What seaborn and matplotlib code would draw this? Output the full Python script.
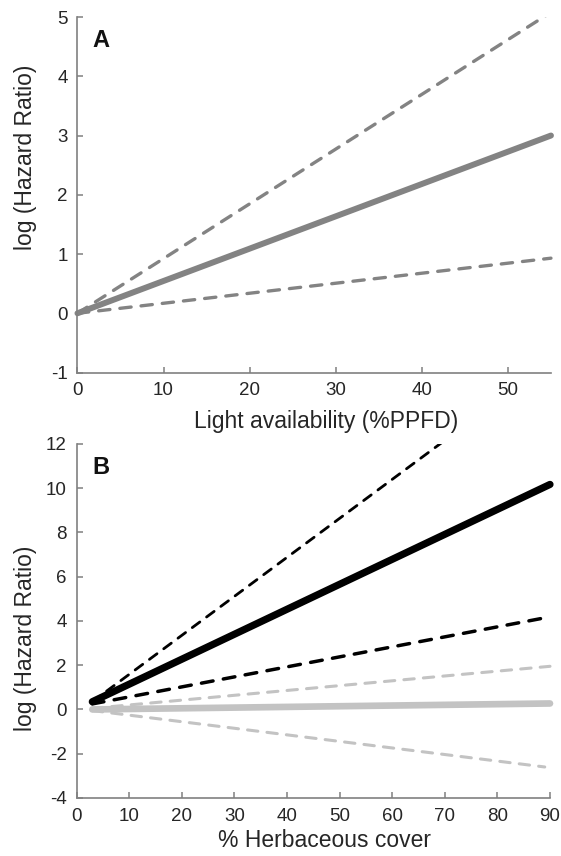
import numpy as np
import pandas as pd
import matplotlib
matplotlib.use('Agg')
import matplotlib.pyplot as plt
import seaborn as sns

# panel A: light availability
light_x = [0, 55]
light_mean = [0, 3.0]
light_upper = [0, 5.08]
light_lower = [0, 0.93]

# panel B: herbaceous cover
herb_x = [3, 90]
herb_black_mean = [0.35, 10.17]
herb_black_upper_x = [3, 70]
herb_black_upper = [0.35, 12.16]
herb_black_lower_x = [3, 89]
herb_black_lower = [0.25, 4.14]
herb_gray_mean = [0.0, 0.27]
herb_gray_upper = [0.05, 1.95]
herb_gray_lower_x = [3, 89]
herb_gray_lower = [-0.05, -2.6]

sns.set_style('ticks')
plt.rcParams['font.family'] = ['Liberation Sans', 'DejaVu Sans']
plt.rcParams['axes.unicode_minus'] = False

axis_col = '#808080'
mid_gray = '#838383'
light_gray = '#c3c3c3'
txt_col = '#262626'

fig = plt.figure(figsize=(5.61, 8.56), dpi=100)
ax1 = fig.add_axes([0.1381, 0.5648, 0.844, 0.4153])
ax2 = fig.add_axes([0.1364, 0.0678, 0.844, 0.4136])


def line(ax, x, y, color, lw, dashed=False, clip=False):
    sns.lineplot(x=x, y=y, ax=ax, color=color, linewidth=lw, estimator=None,
                 sort=False, legend=False)
    ln = ax.lines[-1]
    if dashed:
        ln.set_dashes((3.4, 3.0))
        ln.set_dash_capstyle('round')
    else:
        ln.set_solid_capstyle('round')
    ln.set_clip_on(clip)


line(ax1, light_x, light_upper, mid_gray, 2.4, dashed=True, clip=True)
line(ax1, light_x, light_lower, mid_gray, 2.4, dashed=True)
line(ax1, light_x, light_mean, mid_gray, 4.3)

line(ax2, herb_x, herb_gray_upper, light_gray, 2.2, dashed=True)
line(ax2, herb_gray_lower_x, herb_gray_lower, light_gray, 2.2, dashed=True)
line(ax2, herb_x, herb_gray_mean, light_gray, 4.8)
line(ax2, herb_black_upper_x, herb_black_upper, 'black', 2.0, dashed=True, clip=True)
line(ax2, herb_black_lower_x, herb_black_lower, 'black', 2.5, dashed=True)
line(ax2, herb_x, herb_black_mean, 'black', 5.2)

ax1.set_xlim(0, 55)
ax1.set_ylim(-1, 5)
ax1.set_xticks(range(0, 51, 10))
ax1.set_yticks(range(-1, 6))
ax1.set_xlabel('Light availability (%PPFD)', fontsize=16.5, color=txt_col, va='center')
ax1.set_ylabel('log (Hazard Ratio)', fontsize=16.5, color=txt_col, va='center')
ax1.xaxis.set_label_coords(0.525, -0.139)
ax1.yaxis.set_label_coords(-0.109, 0.606)
ax1.text(0.031, 0.9156, 'A', transform=ax1.transAxes, fontsize=17,
         fontweight='bold', color='#111111')

ax2.set_xlim(0, 90)
ax2.set_ylim(-4, 12)
ax2.set_xticks(range(0, 91, 10))
ax2.set_yticks(range(-4, 13, 2))
ax2.set_xlabel('% Herbaceous cover', fontsize=16.5, color=txt_col, va='center')
ax2.set_ylabel('log (Hazard Ratio)', fontsize=16.5, color=txt_col, va='center')
ax2.xaxis.set_label_coords(0.524, -0.121)
ax2.yaxis.set_label_coords(-0.107, 0.452)
ax2.text(0.033, 0.915, 'B', transform=ax2.transAxes, fontsize=17,
         fontweight='bold', color='#111111')

for ax in (ax1, ax2):
    sns.despine(ax=ax)
    for s in ('left', 'bottom'):
        ax.spines[s].set_color(axis_col)
        ax.spines[s].set_linewidth(1.2)
    ax.tick_params(axis='both', direction='in', length=4.5, width=1.1, color=axis_col,
                   labelsize=13.5, labelcolor=txt_col)
    ax.tick_params(axis='x', pad=7)
    ax.tick_params(axis='y', pad=7)
    ax.patch.set_alpha(0)

fig.savefig('out.png', dpi=100)
